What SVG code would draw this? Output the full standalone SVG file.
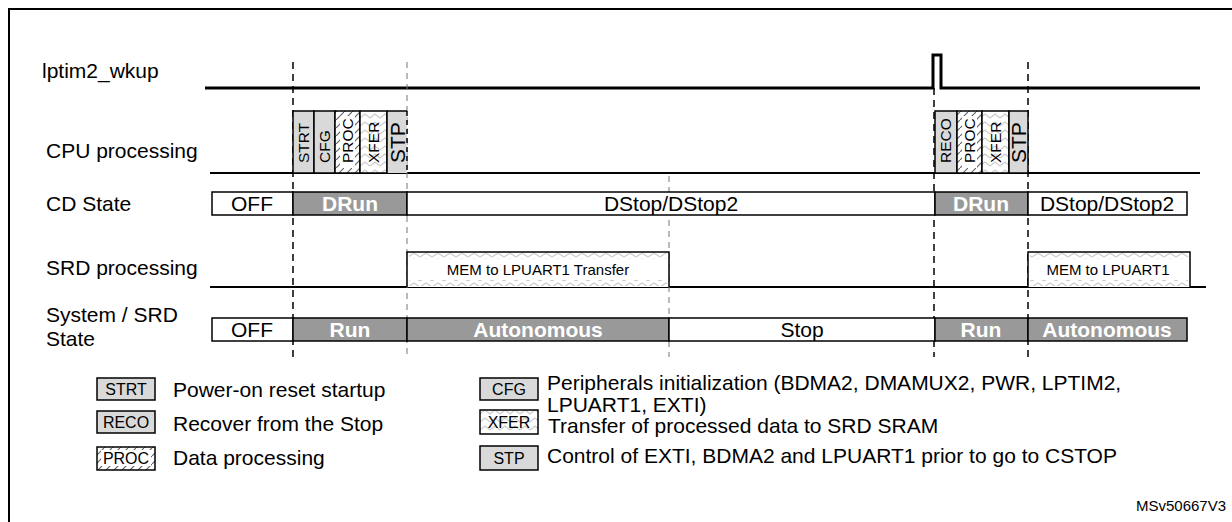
<svg xmlns="http://www.w3.org/2000/svg" width="1232" height="522" viewBox="0 0 1232 522">
<style>
text{font-family:"Liberation Sans",Arial,sans-serif;fill:#000}
.lbl{font-size:21px}
.st{font-size:21px;text-anchor:middle}
.stw{font-size:21px;text-anchor:middle;fill:#fff;font-weight:bold}
.blk{font-size:15.5px}
.big{font-size:21px}
.lg{font-size:21px}
.lgb{font-size:16px;text-anchor:middle}
.sig{fill:none;stroke:#000;stroke-width:3}
.base{stroke:#000;stroke-width:2}
.dd{stroke:#000;stroke-width:1.5;stroke-dasharray:7,5}
.dl{stroke:#777;stroke-width:1;stroke-dasharray:6,5}
.box{stroke:#000;stroke-width:1.5}
.w{fill:#fff}
.g{fill:#999}
.lgy{fill:#d9d9d9}
</style>
<defs>
<pattern id="hatch" width="8" height="8" patternUnits="userSpaceOnUse">
<rect width="8" height="8" fill="#fff"/>
<path d="M0,8 L8,0" stroke="#666" stroke-width="1.2"/>
</pattern>
<pattern id="zig" width="10" height="8" patternUnits="userSpaceOnUse">
<rect width="10" height="8" fill="#fff"/>
<path d="M0,6 L5,2 L10,6" fill="none" stroke="#ccc" stroke-width="1.2"/>
</pattern>
<pattern id="zigh" width="12" height="6" patternUnits="userSpaceOnUse">
<path d="M0,5 L6,1 L12,5" fill="none" stroke="#ccc" stroke-width="1.2"/>
</pattern>
</defs>

<rect x="9" y="9" width="1260" height="540" fill="#fff" stroke="#000" stroke-width="2"/>

<g id="labels">
<text class="lbl" x="42" y="78">lptim2_wkup</text>
<text class="lbl" x="46" y="158">CPU processing</text>
<text class="lbl" x="46" y="211">CD State</text>
<text class="lbl" x="46" y="275">SRD processing</text>
<text class="lbl" x="46" y="322">System / SRD</text>
<text class="lbl" x="46" y="346">State</text>
</g>

<g id="connectors">
<path class="sig" d="M205,88 H933 V55 H941 V88 H1200"/>
<line class="base" x1="210" y1="173" x2="1200" y2="173"/>
<line class="base" x1="210" y1="287" x2="1206" y2="287"/>
<line class="dd" x1="293" y1="62" x2="293" y2="357"/>
<line class="dl" x1="407" y1="62" x2="407" y2="357"/>
<line class="dl" x1="669" y1="176" x2="669" y2="357"/>
<line class="dd" x1="934" y1="88" x2="934" y2="357"/>
<line class="dd" x1="1028" y1="62" x2="1028" y2="357"/>
</g>

<g id="cpu1">
<rect class="box lgy" x="293" y="111" width="21" height="62"/>
<text class="blk" transform="translate(309,163) rotate(-90)">STRT</text>
<rect class="box lgy" x="314" y="111" width="21" height="62"/>
<text class="blk" transform="translate(330,163) rotate(-90)">CFG</text>
<rect class="box" fill="url(#hatch)" x="335" y="111" width="25" height="62"/>
<rect x="340" y="116" width="15" height="52" fill="#fff"/>
<text class="blk" transform="translate(353,163) rotate(-90)">PROC</text>
<rect class="box" fill="url(#zig)" x="360" y="111" width="27" height="62"/>
<text class="blk" transform="translate(379,163) rotate(-90)">XFER</text>
<rect class="lgy" x="387" y="111" width="20" height="62"/>
<path d="M387,111 V173 M387,111 H407" stroke="#000" stroke-width="1.5" fill="none"/>
<line x1="407" y1="111" x2="407" y2="173" stroke="#000" stroke-width="1.5" stroke-dasharray="5,4"/>
<text class="big" transform="translate(404.5,163) rotate(-90)">STP</text>
</g>

<g id="cpu2">
<rect class="box lgy" x="935" y="111" width="22" height="62"/>
<text class="blk" transform="translate(951,163) rotate(-90)">RECO</text>
<rect class="box" fill="url(#hatch)" x="957" y="111" width="25" height="62"/>
<rect x="962" y="116" width="15" height="52" fill="#fff"/>
<text class="blk" transform="translate(975,163) rotate(-90)">PROC</text>
<rect class="box" fill="url(#zig)" x="982" y="111" width="27" height="62"/>
<text class="blk" transform="translate(1001,163) rotate(-90)">XFER</text>
<rect class="box lgy" x="1009" y="111" width="19" height="62"/>
<text class="big" transform="translate(1025.5,163) rotate(-90)">STP</text>
</g>

<g id="cd-state">
<rect class="box w" x="212" y="192" width="81" height="23"/>
<text class="st" x="252" y="211">OFF</text>
<rect class="box g" x="293" y="192" width="114" height="23"/>
<text class="stw" x="350" y="211">DRun</text>
<rect class="box w" x="407" y="192" width="528" height="23"/>
<text class="st" x="671" y="211">DStop/DStop2</text>
<rect class="box g" x="935" y="192" width="93" height="23"/>
<text class="stw" x="981" y="211">DRun</text>
<rect class="box w" x="1028" y="192" width="159" height="23"/>
<text class="st" x="1107" y="211">DStop/DStop2</text>
</g>

<g id="srd-proc">
<rect class="w" x="407" y="252" width="262" height="35"/>
<rect fill="url(#zigh)" x="409" y="253" width="258" height="6"/>
<rect fill="url(#zigh)" x="409" y="280" width="258" height="6"/>
<path d="M407,287 V252 H669 V287" fill="none" stroke="#000" stroke-width="1.5"/>
<text class="lgb" x="538" y="275" style="font-size:15px">MEM to LPUART1 Transfer</text>
<rect class="w" x="1028" y="252" width="162" height="35"/>
<rect fill="url(#zigh)" x="1030" y="253" width="158" height="6"/>
<rect fill="url(#zigh)" x="1030" y="280" width="158" height="6"/>
<path d="M1028,287 V252 H1190 V287" fill="none" stroke="#000" stroke-width="1.5"/>
<text class="lgb" x="1108" y="275" style="font-size:15px">MEM to LPUART1</text>
</g>

<g id="sys-state">
<rect class="box w" x="212" y="318" width="81" height="23"/>
<text class="st" x="252" y="337">OFF</text>
<rect class="box g" x="293" y="318" width="114" height="23"/>
<text class="stw" x="350" y="337">Run</text>
<rect class="box g" x="407" y="318" width="262" height="23"/>
<text class="stw" x="538" y="337">Autonomous</text>
<rect class="box w" x="669" y="318" width="266" height="23"/>
<text class="st" x="802" y="337">Stop</text>
<rect class="box g" x="935" y="318" width="93" height="23"/>
<text class="stw" x="981" y="337">Run</text>
<rect class="box g" x="1028" y="318" width="159" height="23"/>
<text class="stw" x="1107" y="337">Autonomous</text>
</g>

<g id="legend">
<rect class="box lgy" x="97" y="378" width="58" height="22"/>
<text class="lgb" x="126" y="395">STRT</text>
<text class="lg" x="173" y="397">Power-on reset startup</text>
<rect class="box lgy" x="97" y="411" width="58" height="22"/>
<text class="lgb" x="126" y="428">RECO</text>
<text class="lg" x="173" y="431">Recover from the Stop</text>
<rect class="box" fill="url(#hatch)" x="97" y="447" width="58" height="23"/>
<rect x="101" y="450" width="50" height="16" fill="#fff"/>
<text class="lgb" x="126" y="464">PROC</text>
<text class="lg" x="173" y="465">Data processing</text>

<rect class="box lgy" x="480" y="378" width="58" height="22"/>
<text class="lgb" x="509" y="395">CFG</text>
<text class="lg" x="547" y="390">Peripherals initialization (BDMA2, DMAMUX2, PWR, LPTIM2,</text>
<text class="lg" x="547" y="412">LPUART1, EXTI)</text>
<rect class="box" fill="url(#zig)" x="480" y="410" width="58" height="24"/>
<text class="lgb" x="509" y="428">XFER</text>
<text class="lg" x="548" y="433">Transfer of processed data to SRD SRAM</text>
<rect class="box lgy" x="480" y="446" width="58" height="24"/>
<text class="lgb" x="509" y="464">STP</text>
<text class="lg" x="547" y="463">Control of EXTI, BDMA2 and LPUART1 prior to go to CSTOP</text>
</g>

<text x="1136" y="511" style="font-size:15px">MSv50667V3</text>
</svg>
